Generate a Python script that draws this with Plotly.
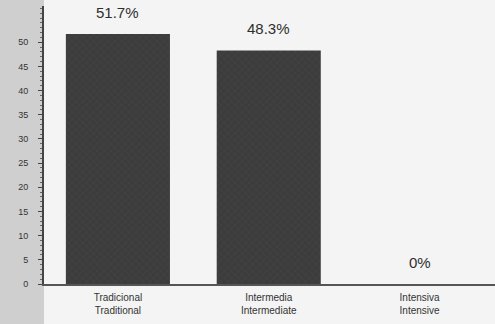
import plotly.graph_objects as go

# Farming system categories (Spanish / English) and their share in percent
categories_es = ["Tradicional", "Intermedia", "Intensiva"]
categories_en = ["Traditional", "Intermediate", "Intensive"]
shares = [51.7, 48.3, 0.0]
value_labels = ["51.7%", "48.3%", "0%"]
y_ticks = [0, 5, 10, 15, 20, 25, 30, 35, 40, 45, 50]

x_labels = [f"{es}<br>{en}" for es, en in zip(categories_es, categories_en)]
FONT = "Liberation Sans, Arial, sans-serif"

fig = go.Figure(
    go.Bar(
        x=x_labels,
        y=shares,
        width=0.69,
        marker=dict(
            color="#3c3c3c",
            line=dict(width=0),
            pattern=dict(shape="x", fgcolor="#555555", bgcolor="#3c3c3c", size=5, solidity=0.15),
        ),
        hoverinfo="skip",
    )
)

# Percent labels floating above each bar
for lbl, val, txt in zip(x_labels, shares, value_labels):
    fig.add_annotation(
        x=lbl, y=val, text=txt, showarrow=False,
        yanchor="bottom", yshift=11,
        font=dict(family=FONT, size=15, color="#2e2e2e"),
    )

# Scanned-page tint on the left margin
fig.add_shape(
    type="rect", xref="paper", yref="paper",
    x0=-0.11, x1=0.0, y0=-0.2, y1=1.1,
    fillcolor="#cfcfcf", line=dict(width=0), layer="below",
)

fig.update_layout(
    width=495,
    height=324,
    margin=dict(l=44, r=0, t=6, b=40),
    paper_bgcolor="#f4f4f4",
    plot_bgcolor="#f4f4f4",
    showlegend=False,
)

fig.update_xaxes(
    range=[-0.49, 2.5],
    showline=True,
    linecolor="#555555",
    linewidth=2,
    ticks="",
    showgrid=False,
    ticklabelstandoff=3,
    tickfont=dict(family=FONT, size=10, color="#333333"),
)

fig.update_yaxes(
    range=[0, 57.5],
    tickvals=y_ticks,
    showline=True,
    linecolor="#444444",
    linewidth=2,
    ticks="outside",
    ticklen=4,
    tickcolor="#444444",
    minor=dict(dtick=1, ticks="outside", ticklen=2, tickcolor="#666666"),
    showgrid=False,
    zeroline=False,
    ticklabelstandoff=8,
    tickfont=dict(family=FONT, size=9, color="#333333"),
)

fig.write_html("out.html")
